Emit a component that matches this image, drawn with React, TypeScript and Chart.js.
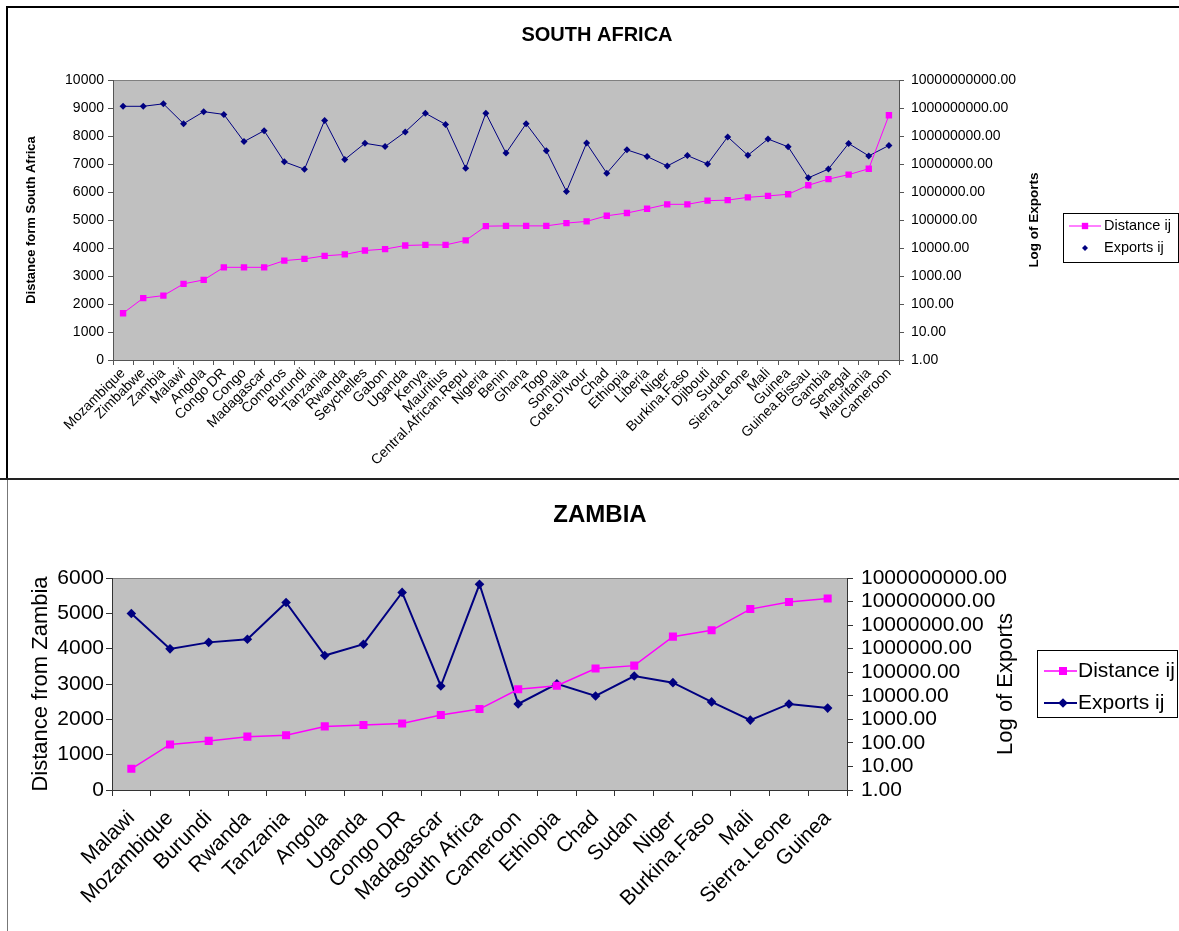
import React, { useEffect, useRef } from "react";
import { Chart, registerables } from "chart.js";

Chart.register(...registerables);

// ---------------- South Africa ----------------
const saCountries = [
  "Mozambique", "Zimbabwe", "Zambia", "Malawi", "Angola", "Congo DR", "Congo",
  "Madagascar", "Comoros", "Burundi", "Tanzania", "Rwanda", "Seychelles", "Gabon",
  "Uganda", "Kenya", "Mauritius", "Central.African.Repu", "Nigeria", "Benin", "Ghana",
  "Togo", "Somalia", "Cote.D'Ivour", "Chad", "Ethiopia", "Liberia", "Niger",
  "Burkina.Faso", "Djibouti", "Sudan", "Sierra.Leone", "Mali", "Guinea",
  "Guinea.Bissau", "Gambia", "Senegal", "Mauritania", "Cameroon",
];
const saDistance = [
  1670, 2210, 2300, 2720, 2860, 3310, 3310, 3310, 3550, 3610, 3720, 3770, 3910,
  3960, 4090, 4110, 4110, 4270, 4780, 4790, 4790, 4790, 4890, 4950, 5150, 5250,
  5400, 5560, 5560, 5690, 5710, 5810, 5860, 5920, 6240, 6460, 6620, 6830, 8740,
];
const saExports = [
  1.15e9, 1.15e9, 1.41e9, 2.75e8, 7.4e8, 5.9e8, 6.3e7, 1.55e8, 1.2e7, 6.5e6,
  3.6e8, 1.45e7, 5.5e7, 4.2e7, 1.4e8, 6.5e8, 2.6e8, 7.1e6, 6.5e8, 2.45e7,
  2.75e8, 3.0e7, 1.05e6, 5.6e7, 4.7e6, 3.2e7, 1.85e7, 8.5e6, 2.0e7, 1.0e7,
  9.3e7, 2.05e7, 7.8e7, 4.1e7, 3.2e6, 6.6e6, 5.4e7, 1.95e7, 4.6e7,
];
const saDistanceTicks = [0, 1000, 2000, 3000, 4000, 5000, 6000, 7000, 8000, 9000, 10000];
const saExportTicks = [1, 10, 100, 1000, 10000, 100000, 1000000, 10000000, 100000000, 1000000000, 10000000000];

// ---------------- Zambia ----------------
const zmCountries = [
  "Malawi", "Mozambique", "Burundi", "Rwanda", "Tanzania", "Angola", "Uganda",
  "Congo DR", "Madagascar", "South Africa", "Cameroon", "Ethiopia", "Chad", "Sudan",
  "Niger", "Burkina.Faso", "Mali", "Sierra.Leone", "Guinea",
];
const zmDistance = [
  600, 1290, 1390, 1510, 1550, 1800, 1840, 1880, 2120, 2290, 2850, 2950, 3440,
  3520, 4340, 4520, 5120, 5320, 5420,
];
const zmExports = [
  3.1e7, 9.8e5, 1.85e6, 2.5e6, 9.1e7, 5.1e5, 1.55e6, 2.45e8, 2.6e4, 5.4e8,
  4.5e3, 3.2e4, 9.8e3, 6.9e4, 3.6e4, 5.5e3, 930, 4.5e3, 3.0e3,
];
const zmDistanceTicks = [0, 1000, 2000, 3000, 4000, 5000, 6000];
const zmExportTicks = [1, 10, 100, 1000, 10000, 100000, 1000000, 10000000, 100000000, 1000000000];

const PINK = "#FF00FF";
const NAVY = "#000080";
const FONT = "'Liberation Sans', Arial, Helvetica, sans-serif";

type Decor = {
  title: string;
  titleFont: string;
  titleX: number;
  titleY: number;
  rightTitle: string;
  rightTitleFont: string;
  rightTitleX: number;
  legend: {
    x: number; y: number; w: number; h: number;
    font: string;
    rows: number[];
    lineX1: number; lineX2: number; markerX: number; textX: number;
    lines: boolean[];
    markerSizes: number[];
  };
};

function drawMarker(ctx: CanvasRenderingContext2D, style: string, x: number, y: number, r: number, color: string) {
  ctx.fillStyle = color;
  ctx.beginPath();
  if (style === "rect") {
    const s = r * Math.SQRT1_2;
    ctx.rect(x - s, y - s, 2 * s, 2 * s);
  } else {
    ctx.moveTo(x, y - r);
    ctx.lineTo(x + r, y);
    ctx.lineTo(x, y + r);
    ctx.lineTo(x - r, y);
    ctx.closePath();
  }
  ctx.fill();
}

function decorPlugin(d: Decor) {
  return {
    id: "decor",
    beforeDraw(chart: any) {
      const { ctx, chartArea: a } = chart;
      ctx.save();
      ctx.fillStyle = "#C0C0C0";
      ctx.fillRect(a.left, a.top, a.right - a.left, a.bottom - a.top);
      ctx.strokeStyle = "#808080";
      ctx.lineWidth = 1;
      ctx.beginPath();
      ctx.moveTo(a.left, a.top + 0.5);
      ctx.lineTo(a.right, a.top + 0.5);
      ctx.stroke();
      ctx.restore();
    },
    afterDraw(chart: any) {
      const { ctx, chartArea: a } = chart;
      ctx.save();
      ctx.fillStyle = "#000";
      ctx.textAlign = "center";
      ctx.textBaseline = "middle";
      ctx.font = d.titleFont;
      ctx.fillText(d.title, d.titleX, d.titleY);
      ctx.save();
      ctx.translate(d.rightTitleX, (a.top + a.bottom) / 2);
      ctx.rotate(-Math.PI / 2);
      ctx.font = d.rightTitleFont;
      ctx.fillText(d.rightTitle, 0, 0);
      ctx.restore();

      const L = d.legend;
      ctx.fillStyle = "#fff";
      ctx.fillRect(L.x, L.y, L.w, L.h);
      ctx.strokeStyle = "#000";
      ctx.lineWidth = 1;
      ctx.strokeRect(L.x + 0.5, L.y + 0.5, L.w - 1, L.h - 1);
      chart.data.datasets.forEach((ds: any, i: number) => {
        const y = L.rows[i];
        if (L.lines[i]) {
          ctx.strokeStyle = ds.borderColor;
          ctx.lineWidth = ds.borderWidth;
          ctx.beginPath();
          ctx.moveTo(L.lineX1, y);
          ctx.lineTo(L.lineX2, y);
          ctx.stroke();
        }
        drawMarker(ctx, ds.pointStyle, L.markerX, y, L.markerSizes[i], ds.borderColor);
        ctx.fillStyle = "#000";
        ctx.textAlign = "left";
        ctx.font = L.font;
        ctx.fillText(ds.label, L.textX, y);
      });
      ctx.restore();
    },
  };
}

function fixedTicks(list: number[]) {
  return (scale: any) => {
    scale.ticks = list.map((v) => ({ value: v }));
  };
}

function makeConfig(opts: {
  labels: string[];
  distance: number[];
  exports: number[];
  distTicks: number[];
  expTicks: number[];
  tickFont: number;
  xFont: number;
  xPad: number;
  leftTitle: string;
  leftTitleFont: any;
  leftTitlePad: number;
  leftWidth: number;
  rightWidth: number;
  xHeight: number;
  padTop: number;
  lineWidths: number[];
  radii: number[];
  tickLen: number;
  leftPad: number;
  rightPad: number;
  axisColor: string;
  decor: Decor;
}): any {
  const tf = { family: FONT, size: opts.tickFont };
  return {
    type: "line",
    data: {
      labels: opts.labels,
      datasets: [
        {
          label: "Distance ij",
          data: opts.distance,
          yAxisID: "y",
          borderColor: PINK,
          backgroundColor: PINK,
          pointBackgroundColor: PINK,
          pointBorderColor: PINK,
          borderWidth: opts.lineWidths[0],
          pointStyle: "rect",
          pointRadius: opts.radii[0],
          pointBorderWidth: 0,
          tension: 0,
        },
        {
          label: "Exports ij",
          data: opts.exports,
          yAxisID: "y1",
          borderColor: NAVY,
          backgroundColor: NAVY,
          pointBackgroundColor: NAVY,
          pointBorderColor: NAVY,
          borderWidth: opts.lineWidths[1],
          pointStyle: "rectRot",
          pointRadius: opts.radii[1],
          pointBorderWidth: 0,
          tension: 0,
        },
      ],
    },
    options: {
      responsive: false,
      animation: false,
      events: [],
      layout: { padding: { top: opts.padTop, left: 0, right: 0, bottom: 0 } },
      plugins: {
        legend: { display: false },
        title: { display: false },
        tooltip: { enabled: false },
      },
      scales: {
        x: {
          type: "category",
          offset: true,
          grid: {
            offset: true,
            drawOnChartArea: false,
            drawTicks: true,
            tickLength: opts.tickLen,
            color: opts.axisColor,
          },
          border: { display: true, color: opts.axisColor },
          ticks: {
            autoSkip: false,
            maxRotation: 45,
            minRotation: 45,
            padding: opts.xPad,
            color: "#000",
            font: { family: FONT, size: opts.xFont },
          },
          afterFit: (s: any) => {
            s.height = opts.xHeight;
          },
        },
        y: {
          type: "linear",
          position: "left",
          min: opts.distTicks[0],
          max: opts.distTicks[opts.distTicks.length - 1],
          afterBuildTicks: fixedTicks(opts.distTicks),
          grid: { drawOnChartArea: false, tickLength: opts.tickLen, color: opts.axisColor },
          border: { display: true, color: opts.axisColor },
          ticks: {
            autoSkip: false,
            color: "#000",
            font: tf,
            padding: opts.leftPad,
            callback: (v: any) => String(v),
          },
          title: {
            display: true,
            text: opts.leftTitle,
            color: "#000",
            font: opts.leftTitleFont,
            padding: { top: opts.leftTitlePad, bottom: 0 },
          },
          afterFit: (s: any) => {
            s.width = opts.leftWidth;
          },
        },
        y1: {
          type: "logarithmic",
          position: "right",
          min: opts.expTicks[0],
          max: opts.expTicks[opts.expTicks.length - 1],
          afterBuildTicks: fixedTicks(opts.expTicks),
          grid: { drawOnChartArea: false, tickLength: opts.tickLen, color: opts.axisColor },
          border: { display: true, color: opts.axisColor },
          ticks: {
            autoSkip: false,
            color: "#000",
            font: tf,
            padding: opts.rightPad,
            callback: (v: any) => Number(v).toFixed(2),
          },
          afterFit: (s: any) => {
            s.width = opts.rightWidth;
          },
        },
      },
    },
    plugins: [decorPlugin(opts.decor)],
  };
}

export default function App() {
  const topRef = useRef<HTMLCanvasElement>(null);
  const botRef = useRef<HTMLCanvasElement>(null);

  useEffect(() => {
    const top = new Chart(
      topRef.current as HTMLCanvasElement,
      makeConfig({
        labels: saCountries,
        distance: saDistance,
        exports: saExports,
        distTicks: saDistanceTicks,
        expTicks: saExportTicks,
        tickFont: 14,
        xFont: 14,
        xPad: 0,
        leftTitle: "Distance form South Africa",
        leftTitleFont: { family: FONT, size: 13, weight: "bold" },
        leftTitlePad: 24,
        leftWidth: 113,
        rightWidth: 1179 - 899,
        xHeight: 478 - 360,
        padTop: 80,
        lineWidths: [1, 1],
        radii: [4.5, 3.5],
        tickLen: 5,
        leftPad: 4,
        rightPad: 7,
        axisColor: "#555",
        decor: {
          title: "SOUTH AFRICA",
          titleFont: `bold 20px ${FONT}`,
          titleX: 597,
          titleY: 35,
          rightTitle: "Log of Exports",
          rightTitleFont: `bold 13.5px ${FONT}`,
          rightTitleX: 1034,
          legend: {
            x: 1063, y: 213, w: 116, h: 50,
            font: `14.5px ${FONT}`,
            rows: [226, 248],
            lineX1: 1069, lineX2: 1101, markerX: 1085, textX: 1104,
            lines: [true, false],
            markerSizes: [4.5, 3],
          },
        },
      })
    );
    const bot = new Chart(
      botRef.current as HTMLCanvasElement,
      makeConfig({
        labels: zmCountries,
        distance: zmDistance,
        exports: zmExports,
        distTicks: zmDistanceTicks,
        expTicks: zmExportTicks,
        tickFont: 21,
        xFont: 21,
        xPad: 10,
        leftTitle: "Distance from Zambia",
        leftTitleFont: { family: FONT, size: 22 },
        leftTitlePad: 28,
        leftWidth: 112,
        rightWidth: 1179 - 847,
        xHeight: 449 - 308,
        padTop: 96,
        lineWidths: [1.5, 2],
        radii: [5.7, 4.8],
        tickLen: 6,
        leftPad: 2,
        rightPad: 8,
        axisColor: "#333",
        decor: {
          title: "ZAMBIA",
          titleFont: `bold 24px ${FONT}`,
          titleX: 600,
          titleY: 33,
          rightTitle: "Log of Exports",
          rightTitleFont: `22px ${FONT}`,
          rightTitleX: 1006,
          legend: {
            x: 1037, y: 168, w: 141, h: 68,
            font: `21px ${FONT}`,
            rows: [189, 221],
            lineX1: 1044, lineX2: 1077, markerX: 1063, textX: 1078,
            lines: [true, true],
            markerSizes: [5.7, 4.8],
          },
        },
      })
    );
    return () => {
      top.destroy();
      bot.destroy();
    };
  }, []);

  return (
    <div
      style={{
        position: "absolute",
        left: 0,
        top: 0,
        width: 1179,
        height: 931,
        background: "#fff",
        overflow: "hidden",
      }}
    >
      <canvas ref={topRef} width={1179} height={478} style={{ position: "absolute", left: 0, top: 0 }} />
      <canvas ref={botRef} width={1179} height={449} style={{ position: "absolute", left: 0, top: 482 }} />
      <div style={{ position: "absolute", left: 6, top: 6, width: 1173, height: 2, background: "#000" }} />
      <div style={{ position: "absolute", left: 6, top: 6, width: 2, height: 473, background: "#000" }} />
      <div style={{ position: "absolute", left: 0, top: 478, width: 1179, height: 2, background: "#222" }} />
      <div style={{ position: "absolute", left: 7, top: 480, width: 1, height: 451, background: "#777" }} />
    </div>
  );
}
